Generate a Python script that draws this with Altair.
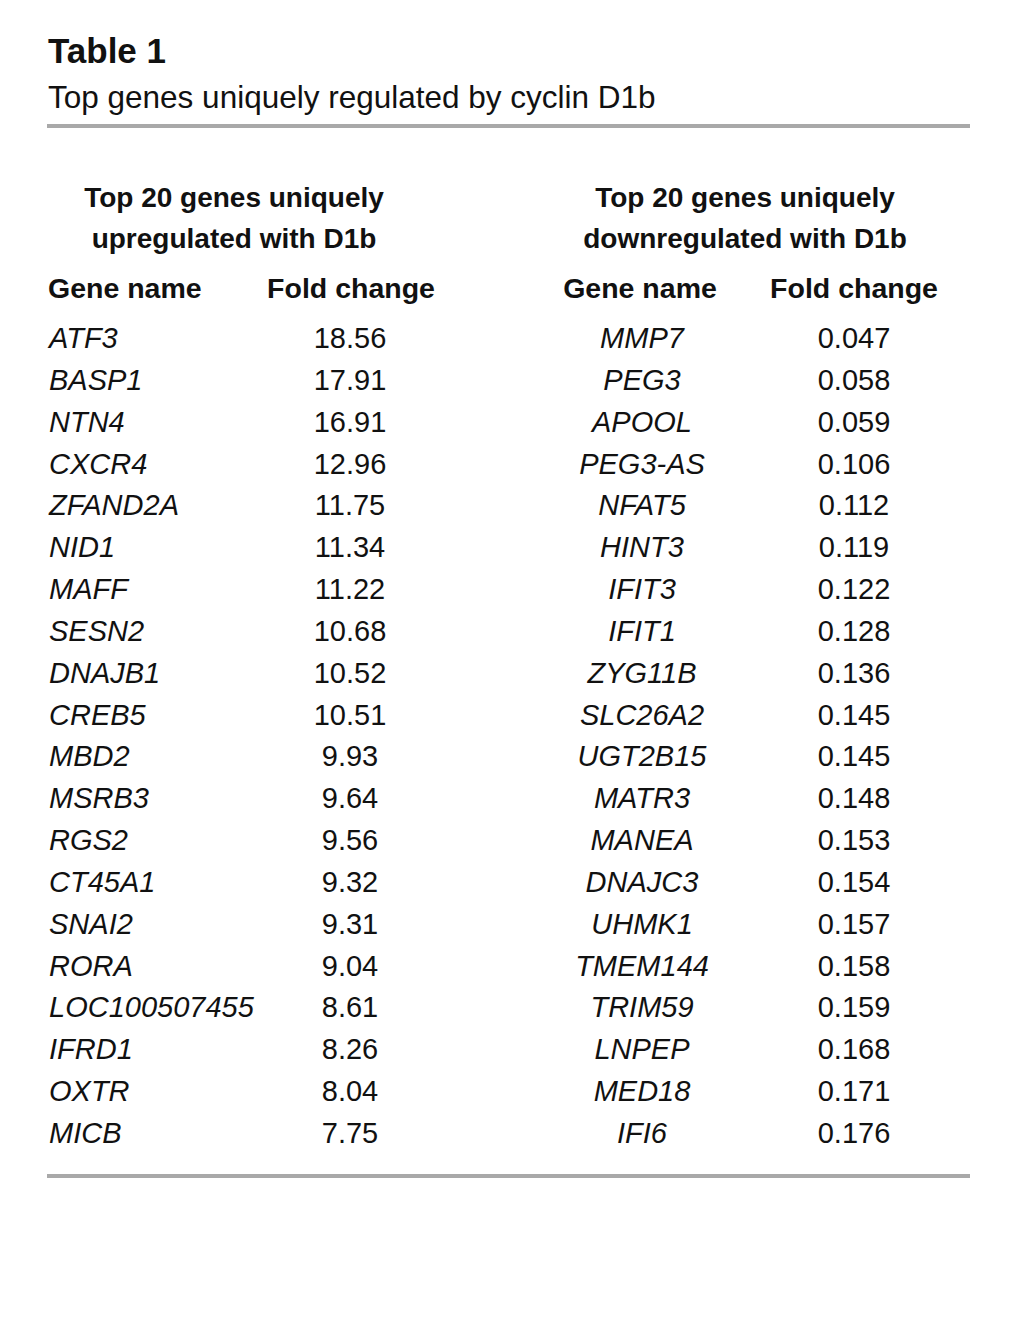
import altair as alt
import pandas as pd

up_genes = ["ATF3", "BASP1", "NTN4", "CXCR4", "ZFAND2A", "NID1", "MAFF", "SESN2",
            "DNAJB1", "CREB5", "MBD2", "MSRB3", "RGS2", "CT45A1", "SNAI2", "RORA",
            "LOC100507455", "IFRD1", "OXTR", "MICB"]
up_fc = [18.56, 17.91, 16.91, 12.96, 11.75, 11.34, 11.22, 10.68, 10.52, 10.51,
         9.93, 9.64, 9.56, 9.32, 9.31, 9.04, 8.61, 8.26, 8.04, 7.75]
down_genes = ["MMP7", "PEG3", "APOOL", "PEG3-AS", "NFAT5", "HINT3", "IFIT3", "IFIT1",
              "ZYG11B", "SLC26A2", "UGT2B15", "MATR3", "MANEA", "DNAJC3", "UHMK1",
              "TMEM144", "TRIM59", "LNPEP", "MED18", "IFI6"]
down_fc = [0.047, 0.058, 0.059, 0.106, 0.112, 0.119, 0.122, 0.128, 0.136, 0.145,
           0.145, 0.148, 0.153, 0.154, 0.157, 0.158, 0.159, 0.168, 0.171, 0.176]

title_text = "Table 1"
subtitle_text = "Top genes uniquely regulated by cyclin D1b"
group_left = ["Top 20 genes uniquely", "upregulated with D1b"]
group_right = ["Top 20 genes uniquely", "downregulated with D1b"]
col_headers = ["Gene name", "Fold change"]

FONT = "Liberation Sans, Arial, Helvetica, sans-serif"
BODY = 29
HEAD = 28.5

df = pd.DataFrame({
    "row": list(range(len(up_genes))),
    "up_gene": up_genes,
    "up_fc": up_fc,
    "down_gene": down_genes,
    "down_fc": down_fc,
})

yscale = alt.Scale(domain=[0, 19], range=[340, 1135])
Y = alt.Y("row:Q", scale=yscale, axis=None)

base = alt.Chart(df)

def body(field, xpos, align, italic=False, fmt=None):
    enc_text = alt.Text(field, format=fmt) if fmt else alt.Text(field)
    return base.mark_text(
        align=align, baseline="alphabetic", font=FONT, fontSize=BODY,
        fontStyle="italic" if italic else "normal", color="#111111"
    ).encode(x=alt.value(xpos), y=Y, text=enc_text)

l1 = body("up_gene:N", 41, "left", italic=True)
l2 = body("up_fc:Q", 342, "center", fmt=".2f")
l3 = body("down_gene:N", 634, "center", italic=True)
l4 = body("down_fc:Q", 846, "center", fmt=".3f")

def label(text, xpos, ypos, align, size, weight="normal"):
    return alt.Chart(pd.DataFrame({"t": [text]})).mark_text(
        align=align, baseline="alphabetic", font=FONT, fontSize=size,
        fontWeight=weight, color="#111111"
    ).encode(x=alt.value(xpos), y=alt.value(ypos), text="t:N")

headers = [
    label(title_text, 40, 55, "left", 35, "bold"),
    label(subtitle_text, 40, 100, "left", 31.5),
    label(group_left[0], 226, 199, "center", 28, "bold"),
    label(group_left[1], 226, 240, "center", 28, "bold"),
    label(group_right[0], 737, 199, "center", 28, "bold"),
    label(group_right[1], 737, 240, "center", 28, "bold"),
    label(col_headers[0], 40, 290, "left", HEAD, "bold"),
    label(col_headers[1], 343, 290, "center", HEAD, "bold"),
    label(col_headers[0], 632, 290, "center", HEAD, "bold"),
    label(col_headers[1], 846, 290, "center", HEAD, "bold"),
]

def hline(ypos):
    return alt.Chart(pd.DataFrame({"a": [0]})).mark_rule(
        color="#a9a9a9", strokeWidth=4
    ).encode(x=alt.value(39), x2=alt.value(962), y=alt.value(ypos))

chart = alt.layer(
    hline(118), hline(1168), *headers, l1, l2, l3, l4
).properties(
    width=1002, height=1322, padding=0,
    autosize=alt.AutoSizeParams(type="none"),
    background="white",
).configure_view(stroke=None)

chart.save("out.html", embed_options={"renderer": "svg", "actions": False})
